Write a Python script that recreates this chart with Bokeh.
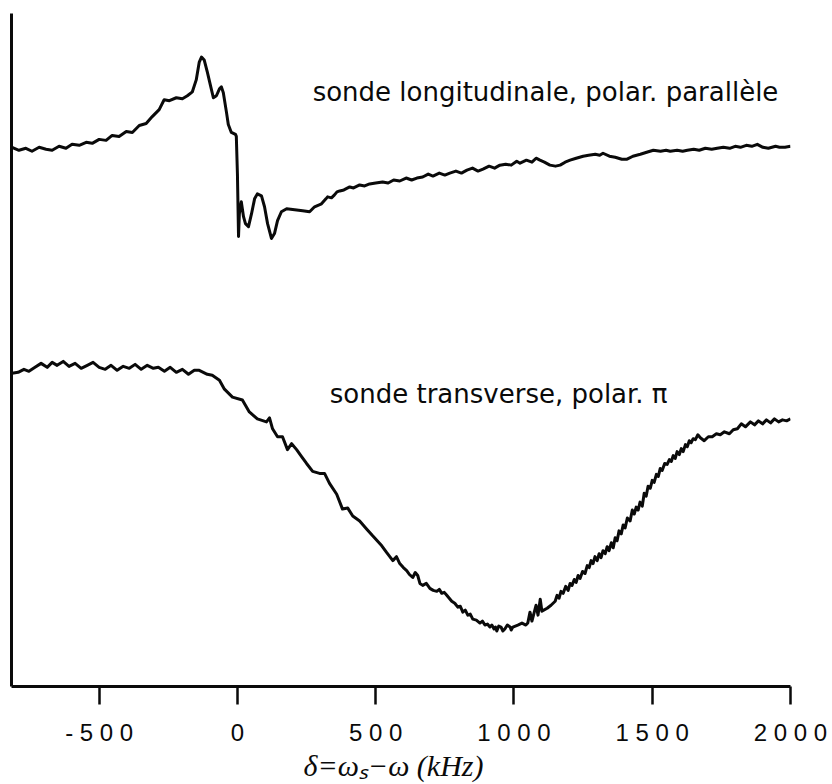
from bokeh.plotting import figure
from bokeh.models import Range1d, FixedTicker, Label
from bokeh.embed import file_html
from bokeh.resources import INLINE

# detuning delta (kHz) and signal (arbitrary units)
x_long = [-815, -790, -765, -743, -717, -692, -670, -645, -620, -598,
          -572, -547, -525, -500, -475, -453, -428, -402, -380, -355,
          -330, -308, -283, -265, -246, -221, -199, -181, -163, -149,
          -138, -130, -120, -109, -98, -87, -76, -65, -58, -51,
          -40, -33, -22, -7, -4, 0, 4, 7, 14, 22,
          29, 40, 51, 62, 72, 87, 98, 109, 123, 134,
          145, 159, 178, 207, 236, 261, 279, 304, 320, 326,
          340, 351, 360, 370, 385, 406, 420, 442, 460, 478,
          500, 525, 545, 565, 587, 610, 630, 649, 670, 690,
          707, 730, 750, 768, 790, 810, 830, 850, 870, 888,
          910, 930, 949, 970, 990, 1010, 1022, 1045, 1065, 1080,
          1094, 1110, 1130, 1150, 1167, 1185, 1203, 1225, 1250, 1270,
          1294, 1310, 1322, 1345, 1366, 1390, 1409, 1430, 1457, 1480,
          1504, 1530, 1550, 1565, 1590, 1610, 1627, 1650, 1670, 1692,
          1715, 1735, 1757, 1780, 1800, 1819, 1840, 1860, 1880, 1900,
          1920, 1946, 1960, 1980, 2000]
y_long = [544, 541, 543, 540, 544, 542, 541, 545, 543, 547,
          546, 549, 548, 552, 551, 556, 555, 560, 559, 566,
          568, 575, 582, 592, 591, 594, 593, 596, 600, 612,
          630, 635, 632, 620, 607, 594, 596, 603, 605, 599,
          580, 567, 559, 557, 555, 517, 454, 477, 489, 474,
          467, 464, 477, 492, 497, 495, 484, 467, 452, 457,
          470, 479, 482, 481, 480, 479, 484, 487, 492, 494,
          493, 496, 499, 500, 501, 504, 503, 506, 505, 507,
          508, 509, 508, 511, 510, 513, 511, 513, 514, 517,
          515, 518, 516, 518, 520, 518, 521, 523, 520, 522,
          525, 523, 526, 527, 526, 530, 528, 531, 529, 533,
          531, 529, 526, 525, 526, 529, 531, 533, 535, 536,
          537, 536, 538, 535, 534, 532, 532, 535, 537, 539,
          541, 540, 541, 540, 541, 540, 541, 542, 541, 543,
          542, 543, 544, 543, 545, 544, 546, 545, 547, 544,
          543, 545, 544, 544, 545]

x_trans = [-815, -793, -772, -754, -732, -710, -688, -670, -652, -630,
           -609, -587, -565, -543, -522, -500, -478, -457, -435, -413,
           -391, -370, -348, -326, -304, -286, -264, -243, -221, -199,
           -177, -156, -138, -109, -91, -65, -47, -18, 18, 43,
           72, 105, 116, 127, 145, 163, 181, 196, 214, 232,
           250, 272, 297, 315, 333, 359, 380, 399, 417, 442,
           467, 489, 522, 540, 562, 575, 587, 600, 612, 622,
           634, 643, 652, 660, 670, 683, 696, 708, 721, 730,
           739, 748, 757, 766, 775, 786, 797, 806, 815, 824,
           833, 842, 851, 864, 877, 886, 895, 904, 913, 920,
           928, 933, 938, 945, 953, 960, 967, 976, 986, 990,
           996, 1014, 1029, 1043, 1050, 1058, 1065, 1080, 1087, 1095,
           1101, 1120, 1134, 1149, 1156, 1163, 1170, 1178, 1187, 1196,
           1203, 1210, 1218, 1225, 1232, 1239, 1248, 1257, 1265, 1272,
           1279, 1286, 1293, 1301, 1308, 1315, 1322, 1330, 1337, 1344,
           1352, 1359, 1366, 1373, 1380, 1388, 1395, 1402, 1410, 1420,
           1428, 1435, 1442, 1449, 1456, 1464, 1471, 1478, 1485, 1493,
           1500, 1507, 1515, 1522, 1529, 1536, 1545, 1554, 1562, 1569,
           1576, 1583, 1590, 1598, 1605, 1612, 1620, 1627, 1634, 1641,
           1648, 1656, 1665, 1674, 1688, 1703, 1717, 1732,
           1746, 1761, 1779, 1793, 1808, 1822, 1837, 1855, 1870, 1884,
           1899, 1913, 1928, 1942, 1957, 1971, 1986, 2000]
y_trans = [316, 317, 320, 318, 322, 326, 322, 327, 324, 328,
           323, 326, 321, 324, 327, 322, 320, 324, 319, 323,
           321, 325, 320, 324, 321, 322, 318, 322, 317, 320,
           315, 319, 319, 315, 314, 309, 300, 292, 289, 277,
           270, 267, 271, 260, 252, 252, 239, 245, 239, 232,
           225, 217, 215, 215, 205, 194, 179, 180, 172, 167,
           159, 152, 142, 135, 127, 131, 124, 120, 117, 113,
           110, 115, 112, 104, 102, 104, 99, 97, 96, 98,
           94, 95, 92, 89, 86, 84, 80, 81, 75, 77,
           72, 73, 68, 67, 64, 66, 62, 63, 60, 62,
           58, 60, 56, 61, 60, 56, 58, 62, 60, 57,
           60, 62, 64, 62, 64, 75, 66, 82, 72, 88,
           76, 79, 82, 86, 92, 89, 96, 94, 101, 97,
           104, 102, 108, 105, 112, 109, 116, 114, 122, 120,
           127, 124, 131, 127, 134, 130, 137, 134, 141, 137,
           145, 140, 150, 147, 157, 154, 163, 160, 170, 167,
           178, 174, 181, 178, 186, 182, 195, 192, 202, 200,
           208, 206, 214, 212, 220, 218, 225, 224, 229, 227,
           233, 230, 237, 234, 240, 237, 244, 242, 248, 246,
           250, 249, 254, 251, 248, 252, 252, 255,
           254, 257, 255, 259, 260, 265, 262, 267, 264, 268,
           265, 269, 266, 270, 267, 269, 268, 270]

tick_values = [-500, 0, 500, 1000, 1500, 2000]
tick_labels = ["- 5 0 0", "0", "5 0 0", "1 0 0 0", "1 5 0 0", "2 0 0 0"]
curve_names = ["sonde longitudinale, polar. parallèle", "sonde transverse, polar. π"]
x_title = "δ=ωₛ−ω   (kHz)"

p = figure(width=832, height=784, output_backend="svg", toolbar_location=None,
           x_range=Range1d(-817, 2000), y_range=Range1d(0, 679),
           min_border_left=11, min_border_right=42, min_border_top=13, min_border_bottom=91)
p.outline_line_color = None
p.xgrid.visible = False
p.ygrid.visible = False
p.background_fill_color = "white"

ink = "#0a0a0a"
p.line(x_long, y_long, line_color=ink, line_width=3, line_join="round")
p.line(x_trans, y_trans, line_color=ink, line_width=3, line_join="round")

xa = p.xaxis[0]
xa.ticker = FixedTicker(ticks=tick_values)
xa.major_label_overrides = {v: s for v, s in zip(tick_values, tick_labels)}
xa.minor_tick_line_color = None
xa.major_tick_in = 0
xa.major_tick_out = 18
xa.major_tick_line_width = 2.5
xa.major_tick_line_color = ink
xa.axis_line_width = 3
xa.axis_line_color = ink
xa.major_label_text_font = "Liberation Sans"
xa.major_label_text_font_size = "24px"
xa.major_label_text_color = ink
xa.major_label_standoff = 14
xa.axis_label = x_title
xa.axis_label_text_font = "Liberation Serif"
xa.axis_label_text_font_style = "italic"
xa.axis_label_text_font_size = "30px"
xa.axis_label_text_color = ink
xa.axis_label_standoff = 0

ya = p.yaxis[0]
ya.ticker = FixedTicker(ticks=[])
ya.minor_tick_line_color = None
ya.major_tick_line_color = None
ya.major_tick_out = 0
ya.major_tick_in = 0
ya.major_label_standoff = 0
ya.axis_line_width = 3
ya.axis_line_color = ink

p.add_layout(Label(x=272, y=600, text=curve_names[0], text_font="DejaVu Sans",
                   text_font_size="26px", text_color=ink, text_baseline="alphabetic"))
p.add_layout(Label(x=334, y=295, text=curve_names[1], text_font="DejaVu Sans",
                   text_font_size="26px", text_color=ink, text_baseline="alphabetic"))

open("out.html", "w").write(file_html(p, INLINE))
